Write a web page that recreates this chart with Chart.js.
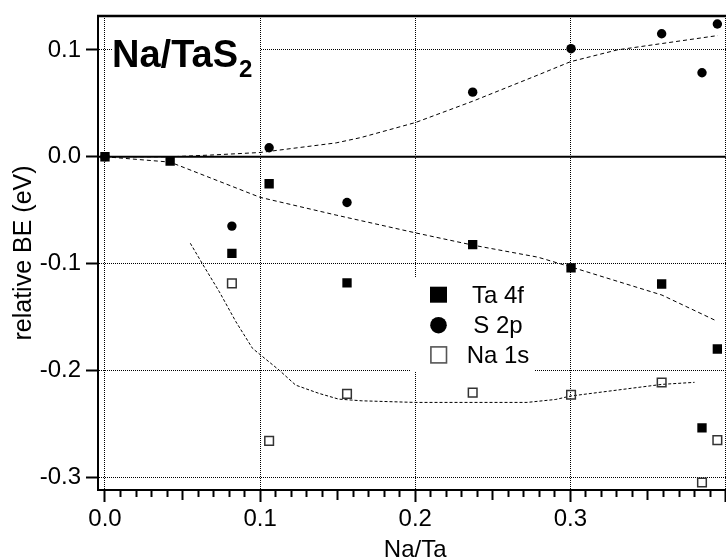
<!DOCTYPE html>
<html>
<head>
<meta charset="utf-8">
<script src="https://cdn.jsdelivr.net/npm/chart.js@4/dist/chart.umd.min.js"></script>
<style>
html,body{margin:0;padding:0;overflow:hidden;background:#fff;width:726px;height:558px;}
#wrap{position:absolute;left:0;top:0;width:740px;height:558px;}
canvas{display:block;}
</style>
</head>
<body>
<div id="wrap"><canvas id="c" width="740" height="558"></canvas></div>
<script>
// ---------- data ----------
const seriesNames = ['Ta 4f', 'S 2p', 'Na 1s'];

const taX = [0, 0.042, 0.0818, 0.1058, 0.156, 0.237, 0.3004, 0.3588, 0.3848, 0.3947];
const taY = [0, -0.004, -0.0905, -0.0253, -0.118, -0.0822, -0.1041, -0.1191, -0.2538, -0.180];

const sX = [0, 0.0818, 0.1058, 0.156, 0.237, 0.3004, 0.3588, 0.3848, 0.3947];
const sY = [0, -0.0649, 0.0084, -0.0428, 0.0605, 0.1012, 0.1152, 0.0787, 0.1243];

const naX = [0.0818, 0.1058, 0.156, 0.237, 0.3004, 0.3588, 0.3848, 0.3947];
const naY = [-0.1185, -0.266, -0.222, -0.2208, -0.2228, -0.2114, -0.305, -0.2653];

// dashed guide curves
const fitSX = [0, 0.042, 0.068, 0.1, 0.149, 0.165, 0.2, 0.237, 0.279, 0.3, 0.33, 0.395];
const fitSY = [0, 0, 0.0016, 0.004, 0.013, 0.018, 0.032, 0.052, 0.0765, 0.089, 0.1, 0.1135];

const fitTX = [0, 0.042, 0.1, 0.149, 0.2, 0.237, 0.279, 0.3, 0.359, 0.394];
const fitTY = [0, -0.005, -0.038, -0.0546, -0.0712, -0.0827, -0.094, -0.103, -0.1295, -0.1536];

const fitNX = [0.055, 0.063, 0.0737, 0.0844, 0.0951, 0.1004, 0.1122, 0.1229, 0.1378, 0.1506, 0.1656, 0.2, 0.272, 0.2906, 0.3002, 0.359, 0.38];
const fitNY = [-0.081, -0.1007, -0.1264, -0.1545, -0.1794, -0.1857, -0.1997, -0.2138, -0.2215, -0.2269, -0.2285, -0.23, -0.23, -0.2272, -0.224, -0.2131, -0.2112];

// ticks
const xTickValues = [0,0.01,0.02,0.03,0.04,0.05,0.06,0.07,0.08,0.09,0.1,0.11,0.12,0.13,0.14,0.15,0.16,0.17,0.18,0.19,0.2,0.21,0.22,0.23,0.24,0.25,0.26,0.27,0.28,0.29,0.3,0.31,0.32,0.33,0.34,0.35,0.36,0.37,0.38,0.39,0.4];
const xMajorTicks = [0, 0.1, 0.2, 0.3, 0.4];
const xMajorLabels = ['0.0', '0.1', '0.2', '0.3', ''];
const xMidTicks = [0.05, 0.15, 0.25, 0.35];
const yTickValues = [-0.3, -0.2, -0.1, 0.0, 0.1];
const yTickLabels = ['-0.3', '-0.2', '-0.1', '0.0', '0.1'];

const xTitle = 'Na/Ta';
const yTitle = 'relative BE (eV)';
const chartTitle = 'Na/TaS';
const chartTitleSub = '2';

// ---------- helpers ----------
const FONT = '"Liberation Sans", Arial, Helvetica, sans-serif';
const pts = (xs, ys) => xs.map((x, i) => ({x: x, y: ys[i]}));
const near = (a, b) => Math.abs(a - b) < 1e-6;
const idxIn = (arr, v) => arr.findIndex(a => near(a, v));

Chart.defaults.font.family = FONT;
Chart.defaults.color = '#000';

const framePlugin = {
  id: 'frame',
  beforeDatasetsDraw(chart) {
    const {ctx, chartArea: ca, scales} = chart;
    ctx.save();
    // zero line
    const y0 = scales.y.getPixelForValue(0);
    ctx.strokeStyle = '#000';
    ctx.lineWidth = 2;
    ctx.beginPath();
    ctx.moveTo(ca.left, y0);
    ctx.lineTo(ca.right, y0);
    ctx.stroke();
    // top frame
    ctx.lineWidth = 2.5;
    ctx.beginPath();
    ctx.moveTo(ca.left - 1, ca.top);
    ctx.lineTo(ca.right, ca.top);
    ctx.stroke();

    // title box
    ctx.fillStyle = '#fff';
    ctx.fillRect(113, 26, 147, 57);
    ctx.fillStyle = '#000';
    ctx.textBaseline = 'alphabetic';
    ctx.textAlign = 'left';
    ctx.font = 'bold 38px ' + FONT;
    ctx.fillText(chartTitle, 112, 67);
    const w = ctx.measureText(chartTitle).width;
    ctx.font = 'bold 24px ' + FONT;
    ctx.fillText(chartTitleSub, 112 + w + 1, 77);

    // legend box
    ctx.fillStyle = '#fff';
    ctx.fillRect(410, 278, 124, 94);
    const mx = 438.5;
    const rows = [294.7, 325.2, 354.7];
    ctx.fillStyle = '#000';
    ctx.fillRect(mx - 8.5, rows[0] - 8, 17, 16);
    ctx.beginPath();
    ctx.arc(mx, rows[1], 8.3, 0, Math.PI * 2);
    ctx.fill();
    ctx.strokeStyle = '#555';
    ctx.lineWidth = 1.6;
    ctx.strokeRect(mx - 7.6, rows[2] - 7.8, 15.6, 16);
    ctx.fillStyle = '#000';
    ctx.font = '24px ' + FONT;
    ctx.textAlign = 'center';
    const baselines = [302.7, 332.7, 363.3];
    seriesNames.forEach((n, i) => ctx.fillText(n, 498, baselines[i]));
    ctx.restore();
  }
};

const ctx = document.getElementById('c').getContext('2d');
new Chart(ctx, {
  type: 'scatter',
  data: {
    datasets: [
      {label: seriesNames[0], data: pts(taX, taY), pointStyle: 'rect', pointRadius: 6.6, pointHoverRadius: 6.6,
       backgroundColor: '#000', borderColor: '#000', borderWidth: 0, order: 0},
      {label: seriesNames[1], data: pts(sX, sY), pointStyle: 'circle', pointRadius: 4.7, pointHoverRadius: 4.7,
       backgroundColor: '#000', borderColor: '#000', borderWidth: 0, order: 1},
      {label: seriesNames[2], data: pts(naX, naY), pointStyle: 'rect', pointRadius: 6.1, pointHoverRadius: 6.1,
       backgroundColor: 'rgba(255,255,255,0)', borderColor: '#333', borderWidth: 1.5, order: 2},
      {label: 'fitS', data: pts(fitSX, fitSY), showLine: true, pointRadius: 0, borderColor: '#000', borderWidth: 1,
       borderDash: [4, 3], tension: 0, fill: false, order: 5},
      {label: 'fitT', data: pts(fitTX, fitTY), showLine: true, pointRadius: 0, borderColor: '#000', borderWidth: 1,
       borderDash: [4, 3], tension: 0, fill: false, order: 5},
      {label: 'fitN', data: pts(fitNX, fitNY), showLine: true, pointRadius: 0, borderColor: '#000', borderWidth: 1,
       borderDash: [3, 2], tension: 0, fill: false, order: 5}
    ]
  },
  options: {
    responsive: false,
    animation: false,
    devicePixelRatio: 1,
    layout: {padding: {left: 0, top: 16, right: 4, bottom: 0}},
    plugins: {legend: {display: false}, tooltip: {enabled: false}, title: {display: false}},
    scales: {
      x: {
        type: 'linear',
        position: 'bottom',
        min: -0.0045,
        max: 0.4044,
        afterBuildTicks: s => { s.ticks = xTickValues.map(v => ({value: v})); },
        afterFit: s => { s.height = 68; s.paddingLeft = 0; s.paddingRight = 0; },
        ticks: {
          autoSkip: false, maxRotation: 0, minRotation: 0, padding: 3,
          font: {size: 24, family: FONT}, color: '#000',
          callback: v => { const i = idxIn(xMajorTicks, v); return i >= 0 ? xMajorLabels[i] : ''; }
        },
        grid: {
          drawOnChartArea: true,
          color: c => (c.tick && idxIn(xMajorTicks, c.tick.value) >= 0) ? '#000' : 'rgba(0,0,0,0)',
          lineWidth: 1,
          tickLength: 12,
          tickWidth: 2,
          tickColor: '#000',
          tickBorderDash: c => {
            if (!c.tick) return [];
            if (idxIn(xMajorTicks, c.tick.value) >= 0) return [];
            if (idxIn(xMidTicks, c.tick.value) >= 0) return [9, 60];
            return [6, 60];
          }
        },
        border: {display: true, color: '#000', width: 2, dash: [1, 1]},
        title: {display: true, text: xTitle, color: '#000',
                font: {size: 24, family: FONT, lineHeight: 0.62}, padding: {top: 0, bottom: 0}}
      },
      y: {
        type: 'linear',
        position: 'left',
        min: -0.312,
        max: 0.1318,
        afterBuildTicks: s => { s.ticks = yTickValues.map(v => ({value: v})); },
        afterFit: s => { s.width = 98; s.paddingTop = 0; s.paddingBottom = 0; },
        ticks: {
          padding: 5, font: {size: 24, family: FONT}, color: '#000',
          callback: v => { const i = idxIn(yTickValues, v); return i >= 0 ? yTickLabels[i] : ''; }
        },
        grid: {
          drawOnChartArea: true,
          color: c => (c.tick && !near(c.tick.value, 0)) ? '#000' : 'rgba(0,0,0,0)',
          lineWidth: 1,
          tickLength: 12,
          tickWidth: 2,
          tickColor: '#000'
        },
        border: {display: true, color: '#000', width: 2, dash: [1, 1]},
        title: {display: true, text: yTitle, color: '#000',
                font: {size: 25, family: FONT, lineHeight: 1.2}, padding: {top: 9, bottom: 0}}
      }
    }
  },
  plugins: [framePlugin]
});
</script>
</body>
</html>
